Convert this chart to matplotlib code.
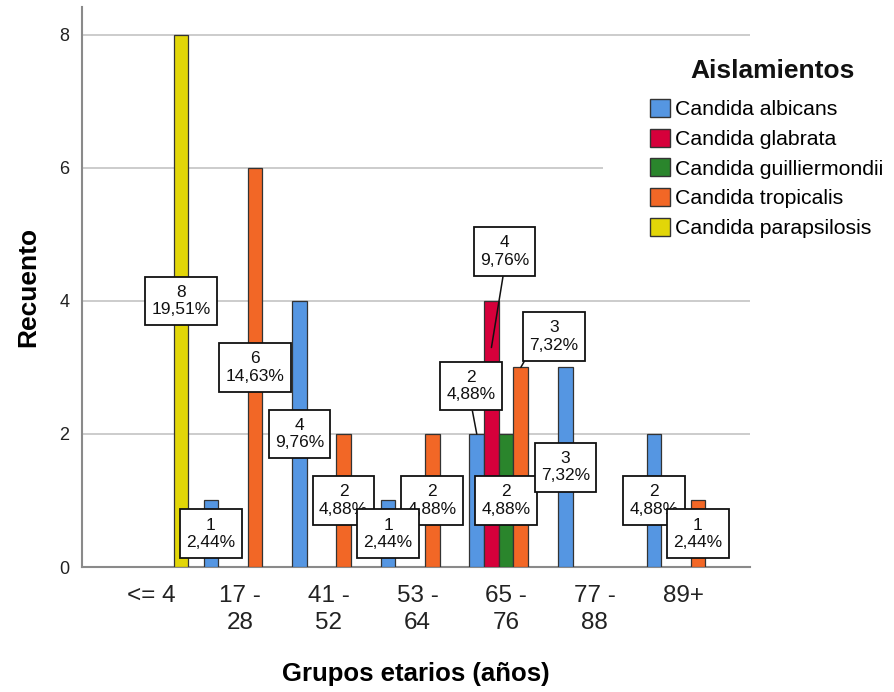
import matplotlib
matplotlib.use("Agg")
import matplotlib.pyplot as plt
from matplotlib.patches import Patch, Rectangle
from matplotlib.path import Path
import numpy as np

plt.rcParams['font.family'] = ['Liberation Sans', 'DejaVu Sans']

# ---- data ----
age_groups = ['<= 4', '17 -\n28', '41 -\n52', '53 -\n64', '65 -\n76', '77 -\n88', '89+']
species = ['Candida albicans', 'Candida glabrata', 'Candida guilliermondii',
           'Candida tropicalis', 'Candida parapsilosis']
albicans = [0, 1, 4, 1, 2, 3, 2]
glabrata = [0, 0, 0, 0, 4, 0, 0]
guilliermondii = [0, 0, 0, 0, 2, 0, 0]
tropicalis = [0, 6, 2, 2, 3, 0, 1]
parapsilosis = [8, 0, 0, 0, 0, 0, 0]
counts = [albicans, glabrata, guilliermondii, tropicalis, parapsilosis]
colors = ['#5596E2', '#D6003B', '#2A852C', '#F26726', '#E2D608']

total = sum(sum(s) for s in counts)

# ---- figure ----
W, H = 895, 692
fig = plt.figure(figsize=(W / 100, H / 100), dpi=100)
ax = fig.add_axes([82 / W, (H - 567) / H, (750 - 82) / W, (567 - 7) / H])

slot = 0.1656
x = np.arange(len(age_groups))
bar_pos = {}
for j, (vals, col) in enumerate(zip(counts, colors)):
    xs = x + (j - 2) * slot
    for i, v in enumerate(vals):
        if v > 0:
            ax.bar(xs[i], v, width=slot, color=col, edgecolor='#333333',
                   linewidth=0.9, zorder=3)
            bar_pos[(j, i)] = (xs[i], v)

ax.set_xlim(-0.787, 6.753)
ax.set_ylim(0, 8.42)
ax.set_yticks([0, 2, 4, 6, 8])
ax.set_xticks(x)
ax.set_xticklabels(age_groups, fontsize=17.5, color='#222222', linespacing=1.28)
ax.tick_params(axis='x', length=0, pad=13)
ax.tick_params(axis='y', length=0, pad=9, labelsize=13, labelcolor='#222222')
ax.yaxis.grid(True, color='#C8C8C8', linewidth=1.3, zorder=0)
ax.set_axisbelow(True)
for s in ['top', 'right']:
    ax.spines[s].set_visible(False)
for s in ['left', 'bottom']:
    ax.spines[s].set_color('#8A8A8A')
    ax.spines[s].set_linewidth(1.5)

ax.set_ylabel('Recuento', fontsize=19, fontweight='bold', labelpad=14)
ax.set_xlabel('Grupos etarios (años)', fontsize=18.5, fontweight='bold', labelpad=20)


# ---- value labels ----
def fmt(v):
    return f"{v}\n{v / total * 100:.2f}%".replace('.', ',')


def label_box(x0, y0, width, height, mutation_size):
    """Rectangular box with more room above/below the text than at the sides."""
    px, py = 0.36 * mutation_size, 0.47 * mutation_size
    x0, y0 = x0 - px, y0 - py
    x1, y1 = x0 + width + 2 * px, y0 + height + 2 * py
    return Path([(x0, y0), (x1, y0), (x1, y1), (x0, y1), (x0, y0)], closed=True)


# (series, group): (target height fraction, label offset in px, leader start)
moved = {
    (0, 4): (1.0, (-6, 48), (0.5, 0.0)),
    (1, 4): (0.825, (13, 96), (0.5, 0.0)),
    (3, 4): (1.0, (33, 31), (0.0, 0.0)),
}
draw_order = [(4, 0), (3, 1), (0, 1), (0, 2), (3, 2), (3, 3), (0, 3),
              (1, 4), (0, 4), (2, 4), (3, 4), (0, 5), (0, 6), (3, 6)]
box = dict(boxstyle=label_box, facecolor='white', edgecolor='#111111',
           linewidth=1.3)
lab_kw = dict(ha='center', va='center', fontsize=12.5, linespacing=1.2,
              color='#111111', bbox=box)
for k, key in enumerate(draw_order):
    j, i = key
    bx, v = bar_pos[key]
    if key in moved:
        frac, off, rel = moved[key]
        ax.annotate(fmt(v), xy=(bx, v * frac), xytext=off, textcoords='offset pixels',
                    zorder=5 + k * 0.01,
                    arrowprops=dict(arrowstyle='-', color='#111111', lw=1.1,
                                    shrinkA=0, shrinkB=0, relpos=rel),
                    **lab_kw)
    else:
        ax.annotate(fmt(v), xy=(bx, v / 2), zorder=5 + k * 0.01, **lab_kw)

# ---- legend ----
fig.patches.append(Rectangle((603 / W, (H - 250) / H), (890 - 603) / W, 205 / H,
                             transform=fig.transFigure, facecolor='white',
                             edgecolor='none', zorder=1))
fig.text(773 / W, (H - 71) / H, 'Aislamientos', fontsize=19, fontweight='bold',
         ha='center', va='center', color='#111111', zorder=3)
handles = [Patch(facecolor=c, edgecolor='#333333', linewidth=1.0) for c in colors]
leg = fig.legend(handles, species, loc='upper left',
                 bbox_to_anchor=(650 / W, (H - 99) / H), frameon=False,
                 fontsize=15.3, handlelength=0.93, handleheight=0.93,
                 handletextpad=0.25, labelspacing=0.44, borderaxespad=0,
                 borderpad=0)
leg.set_zorder(2)

fig.savefig('out.png', dpi=100, facecolor='white')
